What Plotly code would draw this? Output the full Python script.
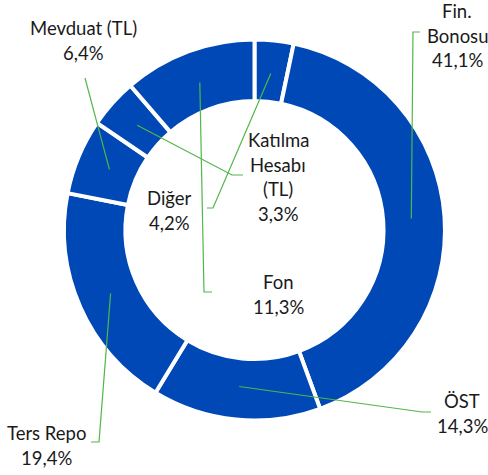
import math
import plotly.graph_objects as go

# ---- data ----
categories = ["Katılma Hesabı (TL)", "Fin. Bonosu", "ÖST", "Ters Repo", "Mevduat (TL)", "Diğer", "Fon"]
values = [3.3, 41.1, 14.3, 19.4, 6.4, 4.2, 11.3]
label_lines = [["Katılma", "Hesabı", "(TL)"], ["Fin.", "Bonosu"], ["ÖST"], ["Ters Repo"],
               ["Mevduat (TL)"], ["Diğer"], ["Fon"]]

# ---- layout (pixel positions) ----
W, H = 488, 475
CX, CY, R_OUT, R_IN = 254.5, 230, 187.5, 127
DOMAIN_R = R_OUT + 3
BLUE = "#0048B5"
GREEN = "#52B648"
FONT = "Lato"
FS = 18.5
LINE_H = 24.5

# label centre x, first line y, leader elbow points
label_pos = [
    (278, 140, [(213, 208), (207, 208)]),
    (457, 11, [(413, 32), (420, 32)]),
    (462, 401, [(422, 412), (431, 412)]),
    (46, 433, [(99, 442), (91, 442)]),
    (83, 28, [(85, 78)]),
    (169, 198, [(232, 175), (243, 175)]),
    (278, 282, [(204, 292), (212, 292)]),
]

fig = go.Figure()
fig.add_trace(go.Pie(
    labels=categories, values=values, sort=False, direction="clockwise", rotation=0,
    hole=R_IN / R_OUT, textinfo="none", hoverinfo="label+percent",
    marker=dict(colors=[BLUE] * len(values), line=dict(color="white", width=4)),
    domain=dict(x=[(CX - DOMAIN_R) / W, (CX + DOMAIN_R) / W],
                y=[(H - CY - DOMAIN_R) / H, (H - CY + DOMAIN_R) / H]),
    showlegend=False,
))

total = sum(values)
shapes, annotations = [], []
cum = 0.0
r_mid = (R_OUT + R_IN) / 2
for v, lines, (lx, ly, elbows) in zip(values, label_lines, label_pos):
    mid = (cum + v / 2) / total * 2 * math.pi
    cum += v
    ax = CX + r_mid * math.sin(mid)
    ay = CY - r_mid * math.cos(mid)
    pts = [(ax, ay)] + elbows
    path = "M " + " L ".join(f"{x:.1f},{y:.1f}" for x, y in pts)
    shapes.append(dict(type="path", path=path, xref="x", yref="y",
                       line=dict(color=GREEN, width=1.2)))
    pct = f"{v:.1f}%".replace(".", ",")
    for i, t in enumerate(lines + [pct]):
        annotations.append(dict(x=lx, y=ly + i * LINE_H, xref="x", yref="y", text=t,
                                showarrow=False, xanchor="center", yanchor="middle",
                                font=dict(family=FONT, size=FS, color="#1a1a1a")))

fig.update_layout(
    width=W, height=H, margin=dict(l=0, r=0, t=0, b=0),
    paper_bgcolor="white", plot_bgcolor="rgba(0,0,0,0)",
    xaxis=dict(range=[0, W], visible=False, domain=[0, 1], fixedrange=True),
    yaxis=dict(range=[H, 0], visible=False, domain=[0, 1], fixedrange=True),
    shapes=shapes, annotations=annotations,
)
fig.write_html("out.html", config=dict(displayModeBar=False),
               post_script="document.body.style.margin='0';document.body.style.overflow='hidden';")
